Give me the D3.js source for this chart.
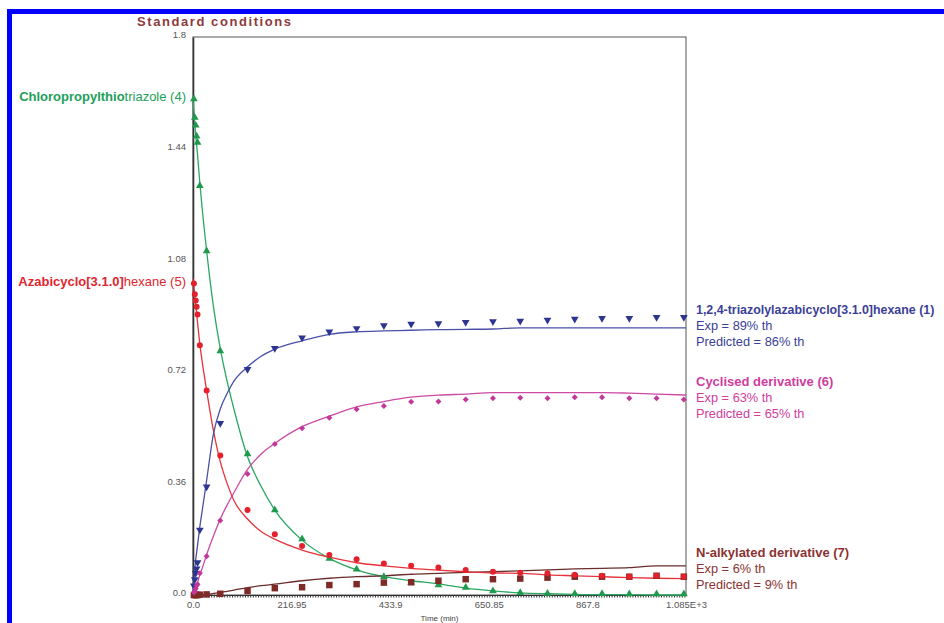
<!DOCTYPE html>
<html><head><meta charset="utf-8">
<script src="https://cdn.jsdelivr.net/npm/d3@7"></script>
<style>
html,body{margin:0;padding:0;background:#fff;overflow:hidden}
svg{display:block;font-family:"Liberation Sans",Arial,sans-serif}
</style></head><body>
<svg id="chart" width="944" height="623"></svg>
<script>
// Sampling times (min) of the measured points
const sampleTimes = [2,4,6,8,10,15,30,60,120,180,240,300,360,420,480,540,600,660,720,780,840,900,960,1020,1080];
// Measured concentrations
const chloroObs   = [1.60,1.54,1.515,1.48,1.46,1.32,1.11,0.787,0.455,0.274,0.181,0.118,0.083,0.059,0.040,0.032,0.024,0.013,0.007,0.005,0.004,0.004,0.003,0.003,0.003];
const azaObs      = [1.005,0.97,0.95,0.93,0.905,0.806,0.66,0.45,0.274,0.196,0.158,0.129,0.115,0.102,0.094,0.089,0.081,0.075,0.072,0.070,0.065,0.062,0.059,0.062,0.059];
const triazolylObs= [0.03,0.05,0.07,0.085,0.105,0.21,0.349,0.554,0.728,0.796,0.83,0.849,0.86,0.869,0.874,0.876,0.88,0.882,0.884,0.887,0.89,0.893,0.893,0.896,0.896];
const cyclisedObs = [0.008,0.012,0.02,0.03,0.035,0.07,0.125,0.24,0.39,0.487,0.538,0.572,0.599,0.61,0.623,0.624,0.631,0.635,0.636,0.635,0.638,0.638,0.635,0.635,0.631];
const alkylObs    = [0,0,0,0,0,0.001,0.002,0.004,0.013,0.022,0.025,0.032,0.035,0.04,0.041,0.046,0.051,0.051,0.053,0.056,0.059,0.059,0.059,0.062,0.059];

// Model (predicted) profiles
const modelTimes   = [0,5,10,15,20,30,45,60,75,90,120,150,180,240,300,360,420,480,540,600,660,720,780,840,900,960,1020,1084.75];
const chloroModel  = [1.60,1.50,1.42,1.33,1.25,1.11,0.93,0.795,0.69,0.60,0.446,0.35,0.274,0.177,0.118,0.081,0.059,0.046,0.036,0.022,0.013,0.007,0.004,0.002,0.001,0.001,0,0];
const azaModel     = [1.02,0.95,0.88,0.81,0.755,0.66,0.53,0.43,0.36,0.305,0.245,0.205,0.18,0.145,0.122,0.104,0.094,0.086,0.08,0.075,0.071,0.07,0.065,0.062,0.059,0.056,0.054,0.053];
const triazolylModel=[0,0.10,0.16,0.22,0.27,0.37,0.52,0.60,0.65,0.69,0.736,0.77,0.793,0.82,0.841,0.849,0.852,0.854,0.856,0.857,0.858,0.862,0.862,0.862,0.862,0.862,0.862,0.862];
const cyclisedModel= [0,0.02,0.04,0.065,0.085,0.13,0.19,0.245,0.29,0.33,0.405,0.455,0.489,0.543,0.577,0.607,0.624,0.638,0.645,0.648,0.653,0.653,0.653,0.653,0.653,0.651,0.648,0.645];
const alkylModel   = [0,0,0.001,0.001,0.001,0.002,0.005,0.008,0.012,0.016,0.024,0.03,0.035,0.046,0.054,0.059,0.062,0.067,0.07,0.073,0.075,0.078,0.081,0.084,0.086,0.088,0.094,0.094];

// Axis ticks
const xTicks = [0,216.95,433.9,650.85,867.8,1084.75];
const xTickLabels = ["0.0","216.95","433.9","650.85","867.8","1.085E+3"];
const yTicks = [0,0.36,0.72,1.08,1.44,1.8];
const yTickLabels = ["0.0","0.36","0.72","1.08","1.44","1.8"];

const svg = d3.select("#chart");

// outer blue frame
svg.append("rect").attr("x",9.5).attr("y",11.5).attr("width",1000).attr("height",1000)
  .attr("fill","none").attr("stroke","#0000ff").attr("stroke-width",5);

const x = d3.scaleLinear().domain([0,1084.75]).range([193,686]);
const y = d3.scaleLinear().domain([0,1.8]).range([595,37]);

// plot frame
svg.append("rect").attr("x",x(0)).attr("y",y(1.8)).attr("width",x(1084.75)-x(0)).attr("height",y(0)-y(1.8))
  .attr("fill","none").attr("stroke","#555").attr("stroke-width",1);

// y axis
const yAxis = svg.append("g").attr("transform",`translate(${x(0)},0)`)
  .call(d3.axisLeft(y).tickValues(yTicks).tickFormat((d,i)=>yTickLabels[i]).tickSize(0).tickPadding(7));
yAxis.select(".domain").attr("stroke","#333").attr("stroke-width",1.6);
yAxis.selectAll("text").attr("font-size",9.5).attr("fill","#555").attr("font-family","Liberation Sans, Arial").attr("dy","0.1em");

// x axis
const xAxis = svg.append("g").attr("transform",`translate(0,${y(0)})`)
  .call(d3.axisBottom(x).tickValues(xTicks).tickFormat((d,i)=>xTickLabels[i]).tickSize(0).tickPadding(6));
xAxis.select(".domain").attr("stroke","#333").attr("stroke-width",1);
xAxis.selectAll("text").attr("font-size",9.5).attr("fill","#555").attr("font-family","Liberation Sans, Arial");
// minor tick comb along the time axis
svg.append("line").attr("x1",x(0)).attr("x2",x(1084.75)).attr("y1",y(0)+1.5).attr("y2",y(0)+1.5)
  .attr("stroke","#333").attr("stroke-width",2).attr("stroke-dasharray","1,1.6");

svg.append("text").attr("x",(x(0)+x(1084.75))/2).attr("y",621).attr("text-anchor","middle")
  .attr("font-size",8).attr("fill","#444").text("Time (min)");

// title
svg.append("text").attr("x",137).attr("y",26)
  .attr("font-size",13).attr("font-weight","bold").attr("fill","#8e3a3c")
  .attr("textLength",154).attr("lengthAdjust","spacing").text("Standard conditions");

const series = [
  {obs:chloroObs, model:chloroModel, marker:"#1f9a4c", line:"#2aa862", sym:d3.symbolTriangle, size:26, rot:0},
  {obs:alkylObs, model:alkylModel, marker:"#7f2a26", line:"#6a2c2c", sym:d3.symbolSquare, size:42, rot:0},
  {obs:azaObs, model:azaModel, marker:"#e4202c", line:"#e8323a", sym:d3.symbolCircle, size:28, rot:0},
  {obs:triazolylObs, model:triazolylModel, marker:"#2e3590", line:"#4a50a8", sym:d3.symbolTriangle, size:26, rot:180},
  {obs:cyclisedObs, model:cyclisedModel, marker:"#c2389a", line:"#cc4aa2", sym:d3.symbolSquare, size:18, rot:45}
];

const line = d3.line().x(d=>x(d[0])).y(d=>y(d[1])).curve(d3.curveMonotoneX);
series.forEach(s=>{
  svg.append("path").datum(modelTimes.map((t,i)=>[t,s.model[i]]))
    .attr("d",line).attr("fill","none").attr("stroke",s.line).attr("stroke-width",1.3);
});
series.forEach(s=>{
  svg.append("g").selectAll("path").data(sampleTimes.map((t,i)=>[t,s.obs[i]])).join("path")
    .attr("d",d3.symbol().type(s.sym).size(s.size))
    .attr("transform",d=>`translate(${x(d[0])},${y(d[1])}) rotate(${s.rot})`)
    .attr("fill",s.marker);
});

// left-hand species labels
const leftLabels = [
  {parts:[["Chloropropylthio","bold"],["triazole (4)","normal"]], color:"#22a05a", y:101},
  {parts:[["Azabicyclo[3.1.0]","bold"],["hexane (5)","normal"]], color:"#e0262e", y:286}
];
leftLabels.forEach(l=>{
  const t = svg.append("text").attr("x",186).attr("y",l.y).attr("text-anchor","end")
    .attr("font-size",13).attr("fill",l.color);
  l.parts.forEach(p=>t.append("tspan").attr("font-weight",p[1]).text(p[0]));
});

// right-hand result labels
const rightLabels = [
  {lines:["1,2,4-triazolylazabicyclo[3.1.0]hexane (1)","Exp = 89% th","Predicted = 86% th"], color:"#3b3f99", y:314, head:12.4},
  {lines:["Cyclised derivative (6)","Exp = 63% th","Predicted = 65% th"], color:"#cf3d9f", y:386, head:13},
  {lines:["N-alkylated derivative (7)","Exp = 6% th","Predicted = 9% th"], color:"#8a3332", y:557, head:13}
];
rightLabels.forEach(l=>{
  l.lines.forEach((txt,i)=>{
    svg.append("text").attr("x",696).attr("y",l.y+i*16).attr("font-size",i===0?l.head:12.8)
      .attr("font-weight",i===0?"bold":"normal").attr("fill",l.color).text(txt);
  });
});
</script>
</body></html>
